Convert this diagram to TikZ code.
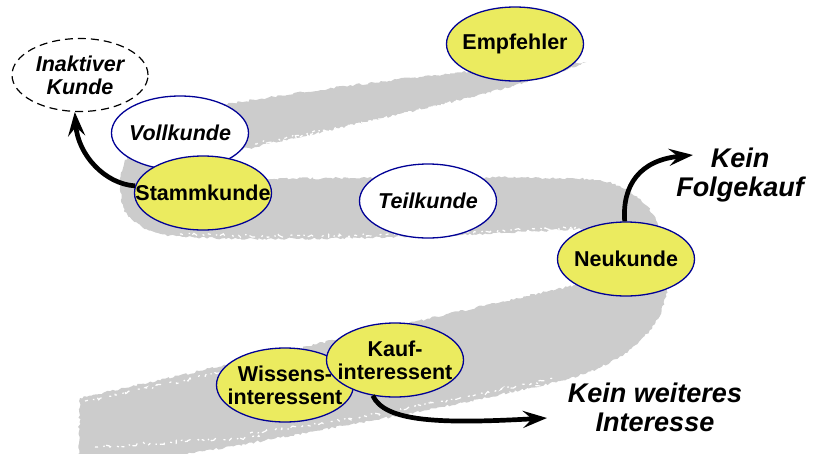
\documentclass[tikz,border=0pt]{standalone}
\usepackage{fontspec}
\setmainfont{Liberation Sans}
\usetikzlibrary{shapes.geometric,arrows.meta,decorations.pathmorphing}
\definecolor{bandgray}{RGB}{204,204,204}
\definecolor{stageyellow}{RGB}{235,235,95}
\definecolor{stageblue}{RGB}{0,0,150}
\begin{document}
\begin{tikzpicture}[x=1pt,y=-1pt,
  stage/.style={ellipse, draw=stageblue, line width=1.3pt, minimum width=137pt, minimum height=74pt, inner sep=0pt},
  hot/.style={stage, fill=stageyellow},
  cold/.style={stage, fill=white},
  lbl/.style={font=\fontsize{21.5}{23}\selectfont\bfseries, align=center, inner sep=0pt},
  ilbl/.style={font=\fontsize{21.5}{23}\selectfont\bfseries\itshape, align=center, inner sep=0pt},
  outlbl/.style={font=\fontsize{27}{29}\selectfont\bfseries\itshape, align=center, inner sep=0pt},
  flow/.style={line width=4.7pt, -{Stealth[length=24pt,width=17pt,inset=9pt]}},
  speck/.style={white, line width=1.2pt, dash pattern=on 3pt off 6pt on 1.5pt off 3pt on 6pt off 9pt on 2pt off 5pt,
    decorate, decoration={random steps, segment length=2pt, amplitude=1.6pt}}
]
\useasboundingbox (0,0) rectangle (813,453);
\begin{scope}
\clip (0,0) rectangle (813,453);
\fill[bandgray, decorate, decoration={random steps, segment length=2.5pt, amplitude=1.2pt}]
  (78,470) -- (80,398)
  .. controls (250,360) and (450,313) .. (567,287)
  .. controls (630,272) and (625,232) .. (577,229)
  .. controls (450,236) and (300,242) .. (183,237)
  .. controls (150,235) and (125,222) .. (121,200)
  .. controls (118,175) and (122,160) .. (135,150)
  .. controls (160,120) and (200,108) .. (233,103)
  .. controls (350,84) and (480,68) .. (586,62)
  .. controls (540,85) and (350,125) .. (250,148)
  .. controls (215,152) and (205,175) .. (272,179)
  .. controls (400,177) and (550,176) .. (600,180)
  .. controls (645,190) and (665,220) .. (668,270)
  .. controls (670,320) and (640,360) .. (560,381)
  .. controls (480,400) and (330,430) .. (180,455)
  -- (150,470) -- cycle;
\draw[speck] (95,447) -- (260,437);
\draw[speck] (250,433) .. controls (350,421) and (450,401) .. (555,378);
\draw[speck] (300,436) .. controls (380,425) and (460,407) .. (540,386);
\draw[speck] (180,234) .. controls (300,239) and (450,234) .. (575,227);
\draw[speck] (255,144) .. controls (350,126) and (480,101) .. (580,67);
\draw[speck] (300,137) .. controls (380,120) and (470,100) .. (560,76);
\draw[speck] (85,401) -- (220,373);
\end{scope}

\node[cold, label={[ilbl]center:Vollkunde}] (voll) at (180,133) {};
\node[hot, label={[lbl]center:Stammkunde}] (stamm) at (203,193) {};
\node[stage, draw=black, line width=1.2pt, dash pattern=on 8pt off 5pt, fill=white,
  minimum width=136pt, minimum height=73pt, label={[ilbl]center:Inaktiver\\Kunde}] (inakt) at (80,75) {};
\node[cold, label={[ilbl]center:Teilkunde}] (teil) at (428,201) {};
\node[hot, label={[lbl]center:Empfehler}] (empf) at (515,44) {};
\node[hot, label={[lbl]center:Neukunde}] (neu) at (626,259) {};
\node[hot, label={[lbl]center:Wissens-\\interessent}] (wiss) at (285,385) {};
\node[hot, label={[lbl]center:Kauf-\\interessent}] (kauf) at (395,360) {};

\node[outlbl] (kf) at (740,175) {Kein\\Folgekauf};
\node[outlbl] (kw) at (655,407) {Kein weiteres\\Interesse};
\coordinate (kfTip) at (693,155);
\coordinate (kwTip) at (547,418);

\draw[flow] (stamm.174) .. controls (105,184) and (78,155) .. (inakt.262);
\draw[flow] (neu.92) .. controls (622,185) and (640,160) .. (kfTip);
\draw[flow] (kauf.238) .. controls (385,422) and (440,424) .. (kwTip);
\end{tikzpicture}
\end{document}
